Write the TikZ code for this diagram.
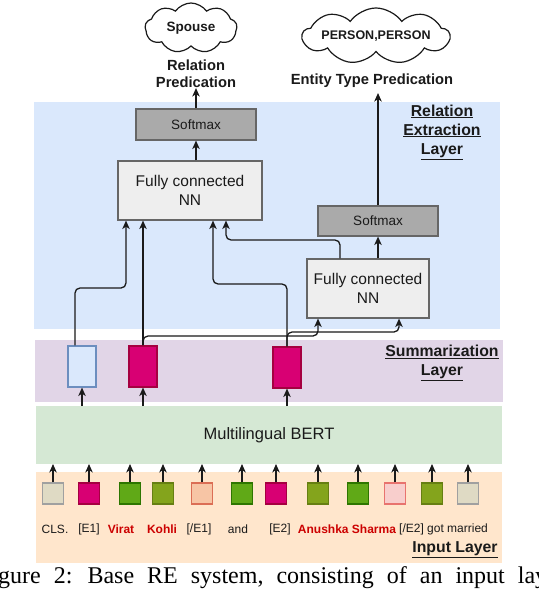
\documentclass[tikz,border=0pt]{standalone}
\usepackage{fontspec}
\setmainfont{Liberation Sans}
\newfontfamily\capfont{Liberation Serif}
\usetikzlibrary{shapes.symbols,arrows.meta}
\definecolor{relbg}{HTML}{DAE8FC}
\definecolor{sumbg}{HTML}{E1D5E7}
\definecolor{bertbg}{HTML}{D5E8D4}
\definecolor{inbg}{HTML}{FFE6CC}
\definecolor{boxline}{HTML}{666666}
\definecolor{fcfill}{HTML}{EEEEEE}
\definecolor{smfill}{HTML}{AAAAAA}
\definecolor{magf}{HTML}{D80073}
\definecolor{magd}{HTML}{A50040}
\definecolor{bluef}{HTML}{DAE8FC}
\definecolor{blued}{HTML}{6C8EBF}
\definecolor{grnf}{HTML}{60A917}
\definecolor{grnd}{HTML}{2D7600}
\definecolor{olvf}{HTML}{84A41C}
\definecolor{olvd}{HTML}{667F12}
\definecolor{begf}{HTML}{DFDAC4}
\definecolor{begd}{HTML}{A0A0A0}
\definecolor{salf}{HTML}{F7C5A5}
\definecolor{sald}{HTML}{DB6E55}
\definecolor{pnkf}{HTML}{F8CECC}
\definecolor{pnkd}{HTML}{E8736E}
\definecolor{tokred}{HTML}{CC0000}
\definecolor{ink}{HTML}{1A1A1A}
\tikzset{
 layer/.style={draw=none, inner sep=0pt, outer sep=0pt},
 fcbox/.style={draw=boxline, fill=fcfill, line width=1.2pt, inner sep=0pt, align=center, font=\fontsize{15.5}{19.5}\selectfont, text=ink},
 smbox/.style={draw=boxline, fill=smfill, line width=1.2pt, inner sep=0pt, font=\fontsize{13.5}{16}\selectfont, text=ink, minimum width=120pt, minimum height=31pt},
 sumbox/.style={line width=1.2pt, inner sep=0pt, minimum width=28pt, minimum height=41pt},
 tok/.style={line width=1.2pt, inner sep=0pt, minimum width=20.5pt, minimum height=21pt},
 tlab/.style={inner sep=0pt, font=\fontsize{12}{14}\selectfont, text=ink},
 rlab/.style={inner sep=0pt, font=\fontsize{12}{14}\selectfont\bfseries, text=tokred},
 laylab/.style={inner sep=0pt, align=center, font=\fontsize{15.8}{19}\selectfont\bfseries, text=ink},
 predlab/.style={inner sep=0pt, align=center, font=\fontsize{14.7}{17}\selectfont\bfseries, text=ink},
 cloudnode/.style={cloud, cloud puffs=9, cloud puff arc=110, cloud ignores aspect, draw=ink, fill=white, line width=1.2pt, inner sep=0pt, text=ink},
 conn/.style={draw=ink, line width=1.3pt, rounded corners=5pt, -{Stealth[length=8.5pt,width=7.5pt,inset=2.5pt]}},
}
\begin{document}
\begin{tikzpicture}[x=1pt,y=-1pt]
\useasboundingbox (0,0) rectangle (538,594);
\clip (0,0) rectangle (538,594);
\fill[white] (0,0) rectangle (538,594);

% layers
\node[layer, fill=relbg, minimum width=466pt, minimum height=227pt] (rel) at (267,215.5) {};
\node[layer, fill=sumbg, minimum width=468pt, minimum height=62pt] (sum) at (269,371) {};
\node[layer, fill=bertbg, minimum width=466pt, minimum height=58pt, font=\fontsize{16.5}{19}\selectfont, text=ink] (bert) at (269,435) {Multilingual BERT};
\node[layer, fill=inbg, minimum width=466pt, minimum height=91pt] (inp) at (269,517.5) {};

% layer labels
\node[laylab] (rellab) at (442,132) {\underline{Relation}\\\underline{Extraction}\\\underline{Layer}};
\node[laylab] (sumlab) at (442,363) {\underline{Summarization}\\\underline{Layer}};
\node[laylab] (inlab) at (455,550) {\underline{Input Layer}};

% outputs
\node[cloudnode, minimum width=92pt, minimum height=50pt, font=\fontsize{13.5}{16}\selectfont\bfseries] (spouse) at (191,28) {\makebox[0pt]{Spouse}};
\node[cloudnode, minimum width=147pt, minimum height=56pt, font=\fontsize{12.5}{15}\selectfont\bfseries] (pp) at (376,36) {\makebox[0pt]{PERSON,PERSON}};
\node[predlab] (rp) at (196,74) {Relation\\Predication};
\node[predlab] (etp) at (372,81) {Entity Type Predication};

% relation extraction boxes
\node[smbox] (sm1) at (196,124.5) {Softmax};
\node[fcbox, minimum width=144pt, minimum height=59pt] (fc1) at (190,190.5) {Fully connected\\NN};
\node[smbox, minimum height=30pt] (sm2) at (378,221) {Softmax};
\node[fcbox, minimum width=122pt, minimum height=59pt] (fc2) at (368,288.5) {Fully connected\\NN};

% summarization boxes
\node[sumbox, fill=bluef, draw=blued] (sA) at (82,366.5) {};
\node[sumbox, fill=magf, draw=magd] (sB) at (143,366.5) {};
\node[sumbox, fill=magf, draw=magd] (sC) at (287,367.5) {};

% tokens
\node[tok, fill=begf, draw=begd] (t1) at (53,493.5) {};
\node[tok, fill=magf, draw=magd] (t2) at (89,493.5) {};
\node[tok, fill=grnf, draw=grnd] (t3) at (130,493.5) {};
\node[tok, fill=olvf, draw=olvd] (t4) at (163,493.5) {};
\node[tok, fill=salf, draw=sald] (t5) at (202,493.5) {};
\node[tok, fill=grnf, draw=grnd] (t6) at (242,493.5) {};
\node[tok, fill=magf, draw=magd] (t7) at (276,493.5) {};
\node[tok, fill=olvf, draw=olvd] (t8) at (318,493.5) {};
\node[tok, fill=grnf, draw=grnd] (t9) at (358,493.5) {};
\node[tok, fill=pnkf, draw=pnkd] (t10) at (395,493.5) {};
\node[tok, fill=olvf, draw=olvd] (t11) at (432,493.5) {};
\node[tok, fill=begf, draw=begd] (t12) at (468,493.5) {};

% token labels
\node[tlab] (l1) at (55,529) {CLS.};
\node[tlab] (l2) at (89,529) {[E1]};
\node[rlab] (l3) at (121,529) {Virat};
\node[rlab] (l4) at (162,529) {Kohli};
\node[tlab] (l5) at (199,529) {[/E1]};
\node[tlab] (l6) at (238,529) {and};
\node[tlab] (l7) at (280,529) {[E2]};
\node[rlab] (l8) at (347,529) {Anushka Sharma};
\node[tlab, anchor=west] (l9) at (399,529) {[/E2] got married};

% caption
\node[anchor=base west, inner sep=0pt, font=\capfont\fontsize{24}{28}\selectfont, text=black] (cap) at (-22,583) {\spaceskip=13pt\relax Figure 2: Base RE system, consisting of an input layer};

% connectors
\foreach \i in {1,...,12} \draw[conn] (t\i.north) -- (t\i.north |- bert.south);
\foreach \s in {sA,sB,sC} \draw[conn] (bert.north -| \s.south) -- (\s.south);
\draw[conn] ([xshift=-7pt]sA.north) -- (75,288) -- (126,288) -- ([xshift=-64pt]fc1.south);
\draw[conn] (sB.north) -- (sB.north |- fc1.south);
\draw[conn] (sB.north) -- (143,336) -- (318,336) -- ([xshift=-50pt]fc2.south);
\draw[conn] (sC.north) -- (287,284) -- (213,284) -- ([xshift=23pt]fc1.south);
\draw[conn] (sC.north) -- (287,332) -- (399,332) -- ([xshift=31pt]fc2.south);
\draw[conn] ([xshift=-28pt]fc2.north) -- (340,240) -- (226,240) -- ([xshift=36pt]fc1.south);
\draw[conn] (fc1.north -| sm1.south) -- (sm1.south);
\draw[conn] (sm1.north) -- (rp.south);
\draw[conn] (fc2.north -| sm2.south) -- (sm2.south);
\draw[conn] (sm2.north) -- ([yshift=-5pt]sm2.north |- etp.south);
\end{tikzpicture}
\end{document}
